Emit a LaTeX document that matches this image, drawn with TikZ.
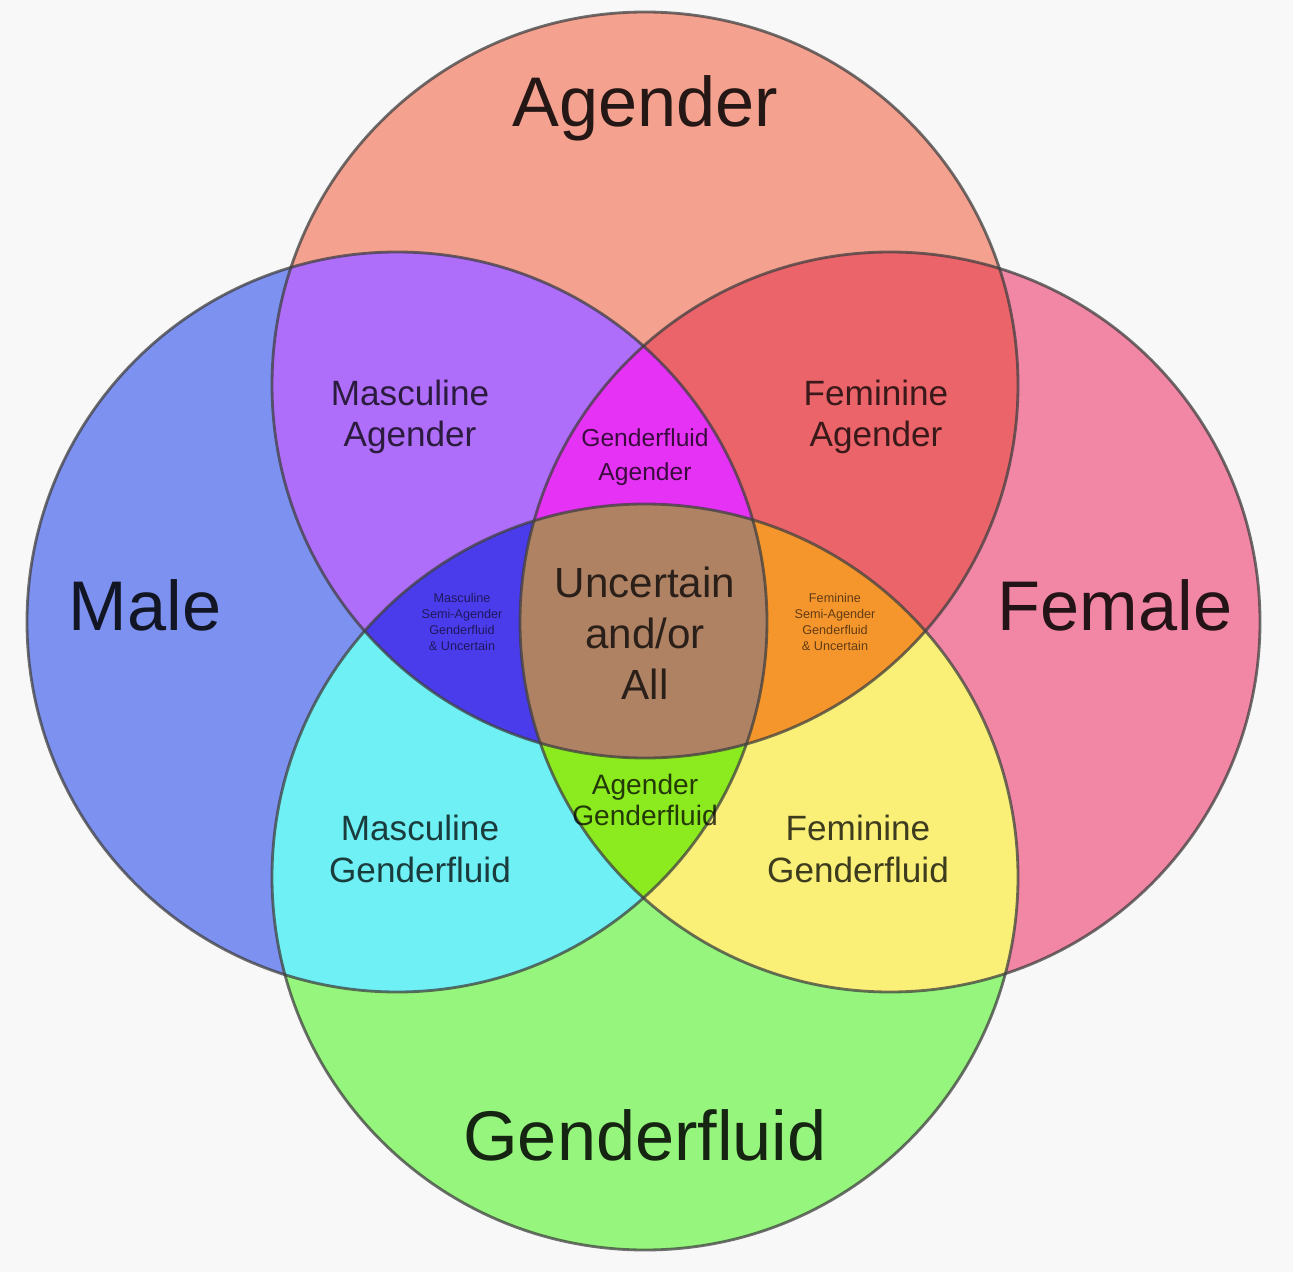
\documentclass[tikz,border=0pt]{standalone}
\usepackage{fontspec}
\setmainfont{Liberation Sans}

\definecolor{agcol}{RGB}{244,161,143}
\definecolor{macol}{RGB}{125,145,240}
\definecolor{fecol}{RGB}{242,135,165}
\definecolor{gfcol}{RGB}{150,245,125}
\definecolor{maagcol}{RGB}{175,110,250}
\definecolor{feagcol}{RGB}{235,100,105}
\definecolor{magfcol}{RGB}{110,240,245}
\definecolor{fegfcol}{RGB}{250,240,120}
\definecolor{topcol}{RGB}{230,50,245}
\definecolor{botcol}{RGB}{140,235,30}
\definecolor{leftcol}{RGB}{75,60,235}
\definecolor{rightcol}{RGB}{245,150,45}
\definecolor{allcol}{RGB}{175,130,100}
\definecolor{bgcol}{RGB}{248,248,248}

% the four sets
\def\agender{(6.45,8.87) circle (3.73)}
\def\male{(3.97,6.50) circle (3.70)}
\def\female{(8.90,6.50) circle (3.70)}
\def\genderfluid{(6.45,3.95) circle (3.73)}

\begin{document}
\begin{tikzpicture}[
    rim/.style={draw=black!75, line width=0.8pt, draw opacity=0.75},
    big/.style={text=black, text opacity=0.85, font=\fontsize{20}{24}\selectfont},
    mid/.style={text=black, text opacity=0.75, align=center, font=\fontsize{10}{11.5}\selectfont},
    tiny/.style={text=black, text opacity=0.6, align=center, font=\fontsize{3.6}{4.6}\selectfont}
]
    \fill[bgcol] (0,0) rectangle (12.93,12.72);
    \useasboundingbox (0,0) rectangle (12.93,12.72);

    % single sets
    \fill[agcol] \agender;
    \fill[macol] \male;
    \fill[fecol] \female;
    \fill[gfcol] \genderfluid;

    % pairs
    \begin{scope}
        \clip \male;
        \fill[maagcol] \agender;
        \fill[magfcol] \genderfluid;
    \end{scope}
    \begin{scope}
        \clip \female;
        \fill[feagcol] \agender;
        \fill[fegfcol] \genderfluid;
    \end{scope}

    % triples
    \begin{scope}
        \clip \male; \clip \female;
        \fill[topcol] \agender;
        \fill[botcol] \genderfluid;
    \end{scope}
    \begin{scope}
        \clip \agender; \clip \genderfluid;
        \fill[leftcol] \male;
        \fill[rightcol] \female;
    \end{scope}

    % all four
    \begin{scope}
        \clip \male; \clip \female; \clip \agender;
        \fill[allcol] \genderfluid;
    \end{scope}

    % outlines
    \path[rim] \agender;
    \path[rim] \male;
    \path[rim] \female;
    \path[rim] \genderfluid;

    % labels
    \node[big] (agender) at (6.45,11.64) {Agender};
    \node[big] (male) at (1.45,6.67) {Male};
    \node[big] (female) at (11.15,6.67) {Female};
    \node[big] (genderfluid) at (6.45,1.37) {Genderfluid};

    \node[mid] (mascag) at (4.10,8.55) {Masculine\\Agender};
    \node[mid] (femag) at (8.76,8.55) {Feminine\\Agender};
    \node[mid, font=\fontsize{7}{9.5}\selectfont] (gfag) at (6.45,8.15) {Genderfluid\\Agender};
    \node[mid, font=\fontsize{12}{14.5}\selectfont] (all) at (6.45,6.39) {Uncertain\\and/or\\All};
    \node[mid, font=\fontsize{8}{9}\selectfont] (aggf) at (6.45,4.72) {Agender\\Genderfluid};
    \node[mid, font=\fontsize{10}{12}\selectfont] (mascgf) at (4.20,4.23) {Masculine\\Genderfluid};
    \node[mid, font=\fontsize{10}{12}\selectfont] (femgf) at (8.58,4.23) {Feminine\\Genderfluid};

    \node[tiny] (leftmix) at (4.62,6.50) {Masculine\\Semi-Agender\\Genderfluid\\\& Uncertain};
    \node[tiny] (rightmix) at (8.35,6.50) {Feminine\\Semi-Agender\\Genderfluid\\\& Uncertain};
\end{tikzpicture}
\end{document}
